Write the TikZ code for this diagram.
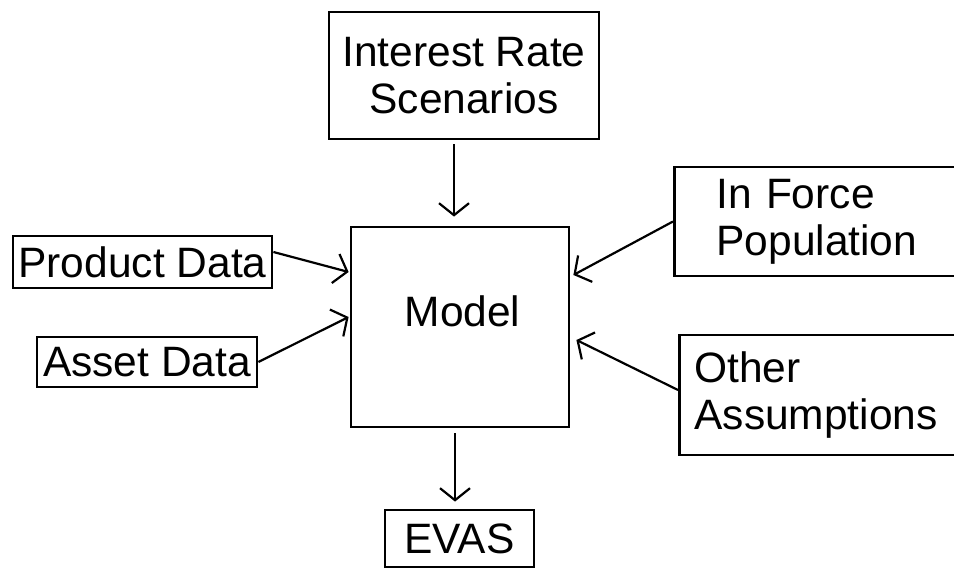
\documentclass[tikz,border=0pt]{standalone}
\usepackage{fontspec}
\setmainfont{Liberation Sans}
\usetikzlibrary{arrows.meta}
\begin{document}
\begin{tikzpicture}[x=1pt,y=-1pt,
  box/.style={draw, line width=2.8pt, rectangle, inner sep=0pt, font=\fontsize{42.5}{47}\selectfont, align=center},
  arr/.style={line width=2.2pt, -{Straight Barb[length=12pt,width=30pt,line width=2.2pt]}}]
\fill[white] (0,0) rectangle (954,569);
\clip (0,0) rectangle (954,569);
\node[box, minimum width=270pt, minimum height=127pt] (irs) at (464,75.5) {Interest Rate\\Scenarios};
\node[box, minimum width=218pt, minimum height=200pt, text height=30pt, text depth=30pt] (model) at (460,327) {\hspace*{5pt}Model};
\node[box, minimum width=259pt, minimum height=52pt] (product) at (142.5,262) {Product Data};
\node[box, minimum width=220pt, minimum height=50pt] (asset) at (147,362) {Asset Data};
\node[box, minimum width=149pt, minimum height=57pt] (evas) at (459.5,538.5) {EVAS};
\node[box, anchor=west, text width=240pt, align=left, inner xsep=42pt, minimum height=109pt] (inforce) at (673,221.5) {In Force\\Population};
\node[box, anchor=west, text width=260pt, align=left, inner xsep=15pt, minimum height=120pt] (other) at (678,395) {Other\\Assumptions};
\draw[arr, shorten <=4pt, shorten >=9pt] ([xshift=-10pt]irs.south) -- ([xshift=-6pt]model.north);
\draw[arr, shorten <=5pt, shorten >=7pt] ([xshift=-5pt]model.south) -- ([xshift=-4.5pt]evas.north);
\draw[arr] ([yshift=10pt]product.east) -- ([yshift=55pt,xshift=-1pt]model.west);
\draw[arr] (asset.east) -- ([yshift=10pt,xshift=-1pt]model.west);
\draw[arr] (inforce.west) -- ([yshift=52pt,xshift=3pt]model.east);
\draw[arr] ([yshift=5pt]other.west) -- ([yshift=-13pt,xshift=6pt]model.east);
\end{tikzpicture}
\end{document}
